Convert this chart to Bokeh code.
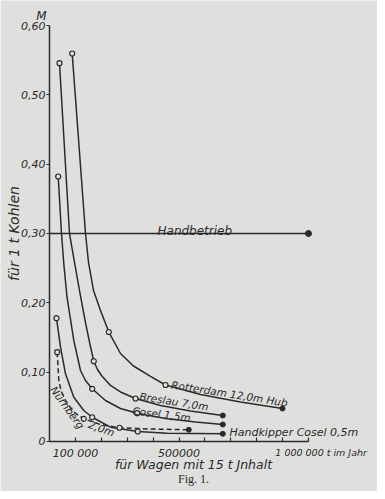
from bokeh.plotting import figure
from bokeh.models import Range1d, FixedTicker
from bokeh.core.properties import value
from bokeh.embed import file_html
from bokeh.resources import INLINE

# ---- data (t per year, M per t of coal) ----
rot_x = [87600, 139000, 150600, 169900, 196900, 229000, 274100, 324300, 390000, 447900, 583000, 737500, 899600]
rot_y = [0.5596, 0.300, 0.2582, 0.2178, 0.1889, 0.1579, 0.1269, 0.1089, 0.0938, 0.0815, 0.0678, 0.0570, 0.0476]
rot_mx = [87600, 229000, 447900]
rot_my = [0.5596, 0.1579, 0.0815]

bre_x = [38600, 77200, 96500, 117800, 139000, 156400, 171000, 185300, 200800, 235500, 274100, 332000, 428600, 544400, 669100]
bre_y = [0.5456, 0.300, 0.2582, 0.2135, 0.1716, 0.1399, 0.1158, 0.1038, 0.0952, 0.0808, 0.0714, 0.0620, 0.0519, 0.0440, 0.0375]
bre_mx = [38600, 171000, 332000]
bre_my = [0.5456, 0.1158, 0.0620]

cos_x = [33600, 46300, 55200, 67600, 93800, 119700, 139000, 164900, 216200, 274100, 338600, 447900, 563700, 669100]
cos_y = [0.3822, 0.300, 0.2563, 0.2081, 0.1457, 0.1024, 0.0880, 0.0760, 0.0591, 0.0476, 0.0408, 0.0332, 0.0281, 0.0245]
cos_mx = [33600, 164900, 338600]
cos_my = [0.3822, 0.0760, 0.0408]

hk_x = [27000, 42500, 61800, 93800, 132400, 164900, 235500, 340900, 454400, 669100]
hk_y = [0.1778, 0.1360, 0.0976, 0.0639, 0.0447, 0.0350, 0.0206, 0.0144, 0.0120, 0.0111]
hk_mx = [27000, 164900, 340900]
hk_my = [0.1778, 0.0350, 0.0144]

nue_x = [29700, 35900, 44400, 61800, 93800, 132400, 196900, 270300, 390000, 537800]
nue_y = [0.1288, 0.0880, 0.0736, 0.0591, 0.0423, 0.0327, 0.0245, 0.0198, 0.0180, 0.0169]
nue_mx = [29700, 132400, 270300]
nue_my = [0.1288, 0.0327, 0.0198]

end_x = [899600, 669100, 669100, 669100, 537800]
end_y = [0.0476, 0.0375, 0.0245, 0.0111, 0.0169]

hand_x = [0, 1000000]
hand_y = [0.30, 0.30]

y_ticks = [0, 0.1, 0.2, 0.3, 0.4, 0.5, 0.6]
y_labels = ["0", "0,10", "0,20", "0,30", "0,40", "0,50", "0,60"]
x_ticks = [100000, 200000, 300000, 400000, 500000, 600000, 700000, 800000, 900000, 1000000]
x_labels = {100000: "100 000", 500000: "500000"}

BG = "#dfdfdd"
INK = "#2a2a2a"
FONT = "DejaVu Sans"

p = figure(width=377, height=491, output_backend="svg", toolbar_location=None,
           x_range=Range1d(-189189, 1266408), y_range=Range1d(-0.07212, 0.63606),
           min_border=0, background_fill_color=BG, border_fill_color=BG,
           outline_line_color=None)
p.grid.visible = False

# x axis
xa = p.xaxis[0]
xa.fixed_location = 0
xa.ticker = FixedTicker(ticks=x_ticks)
xa.major_label_overrides = {t: x_labels.get(t, "") for t in x_ticks}
xa.bounds = (0, 1000000)
xa.major_tick_in = 4
xa.major_tick_out = 0
xa.minor_tick_line_color = None
xa.axis_line_color = INK
xa.axis_line_width = 1.4
xa.major_tick_line_color = INK
xa.major_tick_line_width = 1.2
xa.major_label_standoff = 6
xa.major_label_text_font = FONT
xa.major_label_text_font_style = "italic"
xa.major_label_text_font_size = "11px"
xa.major_label_text_color = INK

# y axis
ya = p.yaxis[0]
ya.fixed_location = 0
ya.ticker = FixedTicker(ticks=y_ticks)
ya.major_label_overrides = dict(zip(y_ticks, y_labels))
ya.bounds = (0, 0.6)
ya.major_tick_in = 0
ya.major_tick_out = 3
ya.minor_tick_line_color = None
ya.axis_line_color = INK
ya.axis_line_width = 1.5
ya.major_tick_line_color = INK
ya.major_tick_line_width = 1.2
ya.major_label_standoff = 1
ya.major_label_text_font = FONT
ya.major_label_text_font_style = "italic"
ya.major_label_text_font_size = "11px"
ya.major_label_text_color = INK

# Handbetrieb
p.line(hand_x, hand_y, line_color=INK, line_width=1.6)
p.scatter([hand_x[-1]], [hand_y[-1]], size=6, fill_color=INK, line_color=INK)

# curves
for xs, ys, dash in [(rot_x, rot_y, "solid"), (bre_x, bre_y, "solid"), (cos_x, cos_y, "solid"),
                     (hk_x, hk_y, "solid"), (nue_x, nue_y, "5 3")]:
    p.line(xs, ys, line_color=INK, line_width=1.5, line_dash=dash, line_join="round")

for mx, my in [(rot_mx, rot_my), (bre_mx, bre_my), (cos_mx, cos_my), (hk_mx, hk_my), (nue_mx, nue_my)]:
    p.scatter(mx, my, size=5, fill_color=BG, line_color=INK, line_width=1.2)

p.scatter(end_x, end_y, size=5, fill_color=INK, line_color=INK)

def txt(x, y, s, size="10.5px", angle=0.0, align="left", baseline="alphabetic",
        font=FONT, style="italic"):
    p.text(x=[x], y=[y], text=[s], angle=angle, text_font=value(font), text_font_style=style,
           text_font_size=size, text_align=align, text_baseline=baseline, text_color=INK)

txt(417000, 0.3038, "Handbetrieb", size="12px")
txt(471000, 0.0823, "Rotterdam 12,0m Hub", angle=-0.157)
txt(347500, 0.0657, "Breslau 7,0m", angle=-0.157)
txt(320000, 0.0447, "Cosel 1,5m", angle=-0.122)
txt(695000, 0.013, "Handkipper Cosel 0,5m", size="11px", baseline="middle")
txt(69500, 0.049, "Nürnberg", angle=-0.942, align="center", baseline="middle")
txt(200800, 0.0188, "2,0m", angle=-0.349, align="center", baseline="middle")

txt(-30900, 0.613, "M", size="12px", align="center", baseline="middle")
txt(-137000, 0.300, "für 1 t Kohlen", size="14px", angle=1.5708, align="center", baseline="middle")
txt(556000, -0.0325, "für Wagen mit 15 t Jnhalt", size="12.5px", align="center", baseline="middle")
txt(872000, -0.0159, "1 000 000 t im Jahr", size="9.5px", baseline="middle")
txt(556000, -0.0541, "Fig. 1.", size="12px", align="center", baseline="middle",
    font="Liberation Serif", style="normal")

open("out.html", "w").write(file_html(p, INLINE))
